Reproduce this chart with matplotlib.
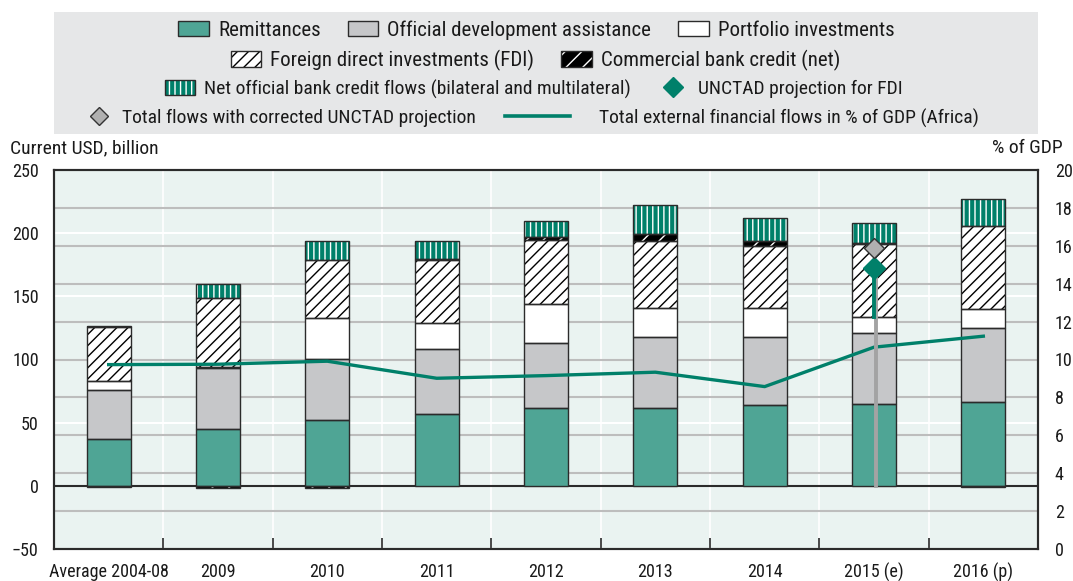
import matplotlib
matplotlib.use("Agg")
import matplotlib.pyplot as plt
from matplotlib import font_manager as fm
from matplotlib.patches import Patch, Rectangle
from matplotlib.lines import Line2D
from matplotlib.legend_handler import HandlerTuple
import numpy as np

# ---------------- data ----------------
categories = ["Average 2004-08", "2009", "2010", "2011", "2012", "2013", "2014", "2015 (e)", "2016 (p)"]
remittances = [36.9, 45.3, 52.1, 56.9, 61.9, 61.4, 63.7, 64.5, 66.1]
oda = [38.9, 47.7, 48.0, 51.3, 51.1, 56.3, 54.0, 56.4, 58.5]
portfolio = [7.4, 0.8, 32.4, 20.8, 31.3, 22.7, 23.1, 13.1, 15.2]
fdi = [42.6, 55.2, 46.0, 50.1, 50.0, 53.4, 48.8, 57.4, 65.8]
commercial = [0.7, -1.5, -2.0, 0.8, 2.6, 5.2, 4.5, 0.6, -1.0]
net_official = [-0.6, 11.1, 15.0, 14.2, 13.0, 23.2, 17.6, 16.0, 21.3]
gdp_share = [9.73, 9.75, 9.91, 9.01, 9.15, 9.33, 8.57, 10.65, 11.23]  # % of GDP (right axis)
proj_category = "2015 (e)"
unctad_fdi_projection = 172.7      # USD billion
corrected_total = 188.2            # USD billion

# ---------------- fonts ----------------
names = {f.name for f in fm.fontManager.ttflist}
if "Liberation Sans Narrow" in names:
    plt.rcParams["font.family"] = ["Liberation Sans Narrow", "DejaVu Sans"]
elif "Roboto Condensed" in names:
    plt.rcParams["font.family"] = ["Roboto Condensed", "DejaVu Sans"]
else:
    plt.rcParams["font.family"] = ["DejaVu Sans"]
    plt.rcParams["font.stretch"] = "condensed"

W, H = 1073, 581
FS = 13      # tick labels
TEAL = "#00806a"
REM = "#4fa595"
ODA = "#c6c7c9"
EDGE = "#2b2b2b"
TXT = "#1a1a1a"

fig = plt.figure(figsize=(W / 100, H / 100), dpi=100)
ax = fig.add_axes([54 / W, 1 - 549 / H, (1038 - 54) / W, (549 - 170) / H])
ax.set_facecolor("#eaf3f1")

n = len(categories)
x = np.arange(n)
width = 0.4

series = [
    (remittances, REM, REM, None),
    (oda, ODA, ODA, None),
    (portfolio, "white", "white", None),
    (fdi, "white", "black", "///"),
    (commercial, "black", "white", "//"),
    (net_official, TEAL, "white", "|||"),
]
pos_base = np.zeros(n)
neg_base = np.zeros(n)
for vals, fc, hc, hatch in series:
    v = np.array(vals, dtype=float)
    bottoms = np.where(v >= 0, pos_base, neg_base)
    ax.bar(x, v, width, bottom=bottoms, color=fc, edgecolor=hc, hatch=hatch,
           linewidth=0, zorder=2)
    ax.bar(x, v, width, bottom=bottoms, fill=False, edgecolor=EDGE,
           linewidth=1.0, zorder=3)
    pos_base += np.where(v >= 0, v, 0)
    neg_base += np.where(v < 0, v, 0)

ax.set_xlim(-0.5, n - 0.5)
ax.set_ylim(-50, 250)
ax.set_yticks(np.arange(-50, 251, 50))
ax.set_xticks(x)
ax.set_xticklabels(categories, fontsize=FS, color=TXT)
ax.set_xticks(np.arange(0.5, n - 0.5, 1), minor=True)
ax.tick_params(axis="x", which="major", length=0, pad=10)
ax.tick_params(axis="x", which="minor", direction="in", length=8, width=1.2, color=EDGE)
ax.tick_params(axis="y", length=0, pad=11, labelsize=FS, labelcolor=TXT)
ax.grid(axis="y", which="major", color="white", linewidth=1.5, zorder=0.5)
ax.grid(axis="x", which="minor", color="white", linewidth=1.2, zorder=0.5)
ax.set_axisbelow(True)
for r in range(2, 20, 2):
    ax.axhline(-50 + r * 15, color="#bdbdbd", linewidth=1.5, zorder=0.8)
ax.axhline(0, color=EDGE, linewidth=1.5, zorder=1.5)
for s in ax.spines.values():
    s.set_linewidth(1.5)
    s.set_color(EDGE)

ax2 = ax.twinx()
ax2.patch.set_visible(False)
ax2.set_ylim(0, 20)
ax2.set_yticks(np.arange(0, 21, 2))
ax2.tick_params(axis="y", length=0, pad=12, labelsize=FS, labelcolor=TXT)
for s in ax2.spines.values():
    s.set_linewidth(1.5)
    s.set_color(EDGE)

ax2.plot(x, gdp_share, color=TEAL, linewidth=2.4, zorder=3)

# projection markers for 2015
pi = categories.index(proj_category)
stem_base = remittances[pi] + oda[pi] + portfolio[pi]
ax2.plot([pi + 0.02, pi + 0.02], [0, unctad_fdi_projection], color="#a3a3a3",
         linewidth=2.8, transform=ax.transData, zorder=4)
ax2.plot([pi, pi], [stem_base, unctad_fdi_projection], color=TEAL,
         linewidth=2.8, transform=ax.transData, zorder=5)
ax2.plot([pi], [unctad_fdi_projection], marker="D", color=TEAL, markersize=11,
         linestyle="none", transform=ax.transData, zorder=6)
ax2.plot([pi], [corrected_total], marker="D", markerfacecolor="#b0b0b0",
         markeredgecolor="#333333", markeredgewidth=1, markersize=10,
         linestyle="none", transform=ax.transData, zorder=6)

# axis titles
fig.text(10 / W, 1 - 148 / H, "Current USD, billion", fontsize=14, ha="left", va="center", color=TXT)
fig.text(1063 / W, 1 - 148 / H, "% of GDP", fontsize=14, ha="right", va="center", color=TXT)

# legend background
fig.patches.append(Rectangle((54 / W, 1 - 134 / H), (1038 - 54) / W, 122 / H,
                             transform=fig.transFigure, facecolor="#e6e7e8",
                             edgecolor="none", zorder=0))

def hatched(fc, hc, hatch):
    return (Patch(facecolor=fc, edgecolor=hc, hatch=hatch, linewidth=0),
            Patch(fill=False, edgecolor=EDGE, linewidth=1.0))

h_rem = Patch(facecolor=REM, edgecolor=EDGE, linewidth=1.0)
h_oda = Patch(facecolor=ODA, edgecolor=EDGE, linewidth=1.0)
h_port = Patch(facecolor="white", edgecolor=EDGE, linewidth=1.0)
h_fdi = hatched("white", "black", "///")
h_com = hatched("black", "white", "//")
h_net = hatched(TEAL, "white", "|||")
h_unc = Line2D([], [], marker="D", color=TEAL, linestyle="none", markersize=10)
h_cor = Line2D([], [], marker="D", markerfacecolor="#b0b0b0", markeredgecolor="#333333",
               linestyle="none", markersize=9)
h_line = Line2D([], [], color=TEAL, linewidth=2.6)

def row(handles, labels, cx, cy, fs=15, loc="center", hl=1.45, cs=1.3, tp=0.45):
    leg = fig.legend(handles, labels, loc=loc, bbox_to_anchor=(cx / W, 1 - cy / H),
                     ncol=len(handles), frameon=False, fontsize=fs, handlelength=hl * 15 / fs,
                     handleheight=0.8 * 15 / fs, handletextpad=tp * 15 / fs,
                     columnspacing=cs * 15 / fs, borderpad=0, borderaxespad=0,
                     handler_map={tuple: HandlerTuple(ndivide=1, pad=0)})
    for t in leg.get_texts():
        t.set_color(TXT)

row([h_rem, h_oda, h_port], ["Remittances", "Official development assistance", "Portfolio investments"], 536.5, 30)
row([h_fdi, h_com], ["Foreign direct investments (FDI)", "Commercial bank credit (net)"], 535.5, 60)
row([h_net, h_unc], ["Net official bank credit flows (bilateral and multilateral)", "UNCTAD projection for FDI"], 533.5, 89, fs=14)
row([h_cor], ["Total flows with corrected UNCTAD projection"], 86, 118, fs=14, loc="center left", hl=1.2, tp=0.55)
row([h_line], ["Total external financial flows in % of GDP (Africa)"], 505, 118, fs=14, loc="center left", hl=3.1, tp=1.4)

fig.savefig("out.png", dpi=100)
